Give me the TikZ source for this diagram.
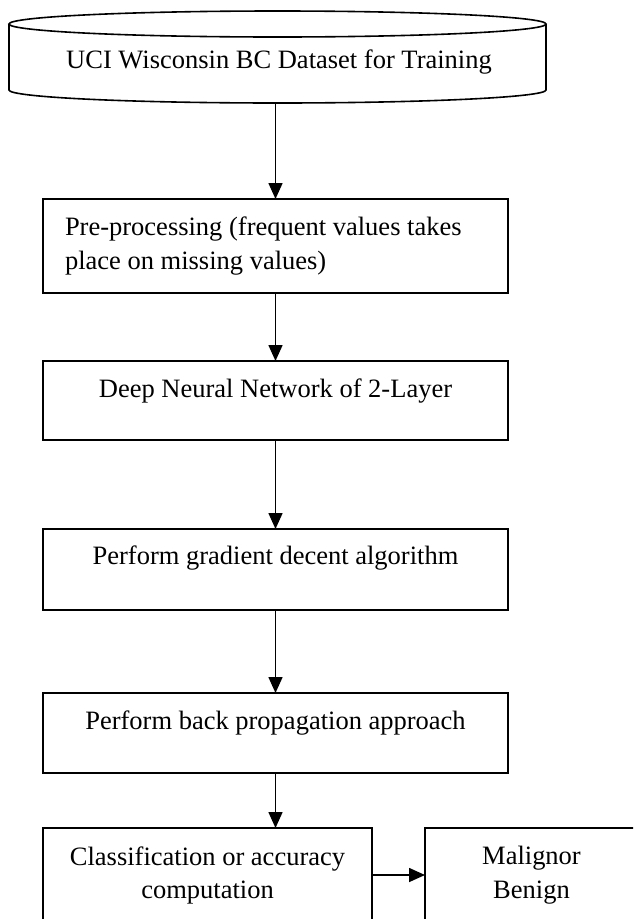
\documentclass[tikz,border=0pt]{standalone}
\usepackage{fontspec}
\setmainfont{Liberation Serif}
\usetikzlibrary{arrows.meta}
\tikzset{
  ln/.style={line width=1.6pt},
  box/.style={ln, draw=black, rectangle, inner sep=0pt, outer sep=0pt},
  txt/.style={inner sep=0pt, outer sep=0pt, font=\fontsize{26.5}{34}\selectfont},
  arr/.style={ln, -{Triangle[length=16pt,width=14pt]}},
}
\begin{document}
\begin{tikzpicture}[x=1pt,y=-1pt]
\useasboundingbox (0,0) rectangle (633,919);
\clip (0,0) rectangle (633,919);
% database cylinder
\draw[ln] (277.5,24) ellipse [x radius=268.5, y radius=13];
\draw[ln] (9,24) -- (9,90) arc[start angle=180, end angle=360, x radius=268.5, y radius=-13] -- (546,24);
\node[txt, anchor=base] (cyl) at (279,68) {UCI Wisconsin BC Dataset for Training};
\coordinate (cylbot) at (275.5,103);
% boxes
\node[box, minimum width=465pt, minimum height=94pt] (b1) at (275.5,246) {};
\node[box, minimum width=465pt, minimum height=79pt] (b2) at (275.5,400.5) {};
\node[box, minimum width=465pt, minimum height=81pt] (b3) at (275.5,569.5) {};
\node[box, minimum width=465pt, minimum height=80pt] (b4) at (275.5,733) {};
\node[box, minimum width=329pt, minimum height=94pt] (b5) at (207.5,875) {};
\node[box, minimum width=213pt, minimum height=94pt] (b6) at (531.5,875) {};
% texts
\node[txt, anchor=base west] (t1a) at (65,235) {Pre-processing (frequent values takes};
\node[txt, anchor=base west] (t1b) at (65,269) {place on missing values)};
\node[txt, anchor=base] (t2) at (275.5,397) {Deep Neural Network of 2-Layer};
\node[txt, anchor=base] (t3) at (275.5,564) {Perform gradient decent algorithm};
\node[txt, anchor=base] (t4) at (275.5,729) {Perform back propagation approach};
\node[txt, anchor=base] (t5a) at (207.5,865) {Classification or accuracy};
\node[txt, anchor=base] (t5b) at (207.5,898) {computation};
\node[txt, anchor=base] (t6a) at (531.5,864) {Malignor};
\node[txt, anchor=base] (t6b) at (531.5,898) {Benign};
% connectors
\draw[arr] (cylbot) -- (cylbot |- b1.north);
\draw[arr] (b1.south) -- (b2.north);
\draw[arr] (b2.south) -- (b3.north);
\draw[arr] (b3.south) -- (b4.north);
\draw[arr] (b4.south) -- (b4.south |- b5.north);
\draw[arr] (b5.east) -- (b6.west);
\end{tikzpicture}
\end{document}
